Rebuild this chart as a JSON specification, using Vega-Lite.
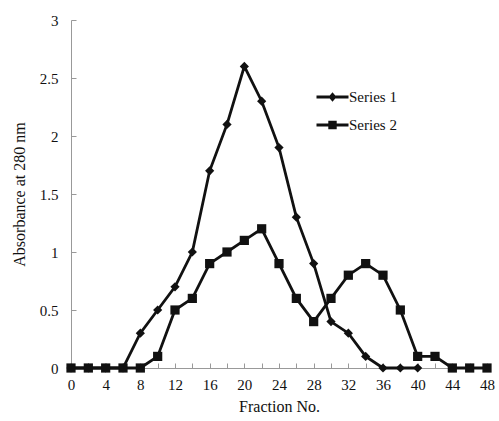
{
  "$schema": "https://vega.github.io/schema/vega-lite/v6.json",
  "width": 416,
  "height": 348,
  "autosize": {"type": "none"},
  "padding": {"left": 71, "top": 20, "right": 12, "bottom": 53},
  "background": "white",
  "config": {
    "view": {"stroke": null},
    "font": "Liberation Serif",
    "axis": {
      "grid": false,
      "domainColor": "#999999",
      "tickColor": "#999999",
      "labelFont": "Liberation Serif",
      "titleFont": "Liberation Serif",
      "labelFontSize": 15,
      "titleFontSize": 16,
      "labelColor": "#111111",
      "titleColor": "#111111",
      "titleFontWeight": "normal"
    }
  },
  "data": {
    "values": [
      {"x": 0, "y": 0, "s": "Series 1"},
      {"x": 2, "y": 0, "s": "Series 1"},
      {"x": 4, "y": 0, "s": "Series 1"},
      {"x": 6, "y": 0, "s": "Series 1"},
      {"x": 8, "y": 0.3, "s": "Series 1"},
      {"x": 10, "y": 0.5, "s": "Series 1"},
      {"x": 12, "y": 0.7, "s": "Series 1"},
      {"x": 14, "y": 1.0, "s": "Series 1"},
      {"x": 16, "y": 1.7, "s": "Series 1"},
      {"x": 18, "y": 2.1, "s": "Series 1"},
      {"x": 20, "y": 2.6, "s": "Series 1"},
      {"x": 22, "y": 2.3, "s": "Series 1"},
      {"x": 24, "y": 1.9, "s": "Series 1"},
      {"x": 26, "y": 1.3, "s": "Series 1"},
      {"x": 28, "y": 0.9, "s": "Series 1"},
      {"x": 30, "y": 0.4, "s": "Series 1"},
      {"x": 32, "y": 0.3, "s": "Series 1"},
      {"x": 34, "y": 0.1, "s": "Series 1"},
      {"x": 36, "y": 0, "s": "Series 1"},
      {"x": 38, "y": 0, "s": "Series 1"},
      {"x": 40, "y": 0, "s": "Series 1"},
      {"x": 0, "y": 0, "s": "Series 2"},
      {"x": 2, "y": 0, "s": "Series 2"},
      {"x": 4, "y": 0, "s": "Series 2"},
      {"x": 6, "y": 0, "s": "Series 2"},
      {"x": 8, "y": 0, "s": "Series 2"},
      {"x": 10, "y": 0.1, "s": "Series 2"},
      {"x": 12, "y": 0.5, "s": "Series 2"},
      {"x": 14, "y": 0.6, "s": "Series 2"},
      {"x": 16, "y": 0.9, "s": "Series 2"},
      {"x": 18, "y": 1.0, "s": "Series 2"},
      {"x": 20, "y": 1.1, "s": "Series 2"},
      {"x": 22, "y": 1.2, "s": "Series 2"},
      {"x": 24, "y": 0.9, "s": "Series 2"},
      {"x": 26, "y": 0.6, "s": "Series 2"},
      {"x": 28, "y": 0.4, "s": "Series 2"},
      {"x": 30, "y": 0.6, "s": "Series 2"},
      {"x": 32, "y": 0.8, "s": "Series 2"},
      {"x": 34, "y": 0.9, "s": "Series 2"},
      {"x": 36, "y": 0.8, "s": "Series 2"},
      {"x": 38, "y": 0.5, "s": "Series 2"},
      {"x": 40, "y": 0.1, "s": "Series 2"},
      {"x": 42, "y": 0.1, "s": "Series 2"},
      {"x": 44, "y": 0, "s": "Series 2"},
      {"x": 46, "y": 0, "s": "Series 2"},
      {"x": 48, "y": 0, "s": "Series 2"}
    ]
  },
  "encoding": {
    "x": {
      "field": "x",
      "type": "quantitative",
      "scale": {"domain": [0, 48], "nice": false, "zero": true},
      "axis": {
        "title": "Fraction No.",
        "values": [0, 2, 4, 6, 8, 10, 12, 14, 16, 18, 20, 22, 24, 26, 28, 30, 32, 34, 36, 38, 40, 42, 44, 46, 48],
        "labelExpr": "datum.value % 4 === 0 ? datum.label : ''",
        "tickSize": -5,
        "labelPadding": 14,
        "titlePadding": 6,
        "labelFlush": false
      }
    },
    "y": {
      "field": "y",
      "type": "quantitative",
      "scale": {"domain": [0, 3], "nice": false},
      "axis": {
        "title": "Absorbance at 280 nm",
        "values": [0, 0.5, 1, 1.5, 2, 2.5, 3],
        "format": "~g",
        "tickSize": -5,
        "labelPadding": 18,
        "titlePadding": 12,
        "labelFlush": false
      }
    }
  },
  "resolve": {"scale": {"shape": "independent"}, "legend": {"shape": "independent"}},
  "layer": [
    {
      "mark": {"type": "line", "stroke": "#111111", "strokeWidth": 2.8},
      "encoding": {"detail": {"field": "s"}}
    },
    {
      "mark": {"type": "point", "filled": true, "color": "#111111", "opacity": 1, "size": 85},
      "encoding": {
        "shape": {
          "field": "s",
          "type": "nominal",
          "scale": {"domain": ["Series 1", "Series 2"], "range": ["diamond", "square"]},
          "legend": null
        }
      }
    },
    {
      "transform": [{"filter": "datum.x < 0"}],
      "mark": {"type": "point", "filled": true, "color": "#111111", "opacity": 1, "size": 400},
      "encoding": {
        "shape": {
          "field": "s",
          "type": "nominal",
          "scale": {
            "domain": ["Series 1", "Series 2"],
            "range": [
              "M-1.6,-0.14L1.6,-0.14L1.6,0.14L-1.6,0.14ZM0,-0.47L0.4,0L0,0.47L-0.4,0Z",
              "M-1.6,-0.14L1.6,-0.14L1.6,0.14L-1.6,0.14ZM-0.42,-0.42L0.42,-0.42L0.42,0.42L-0.42,0.42Z"
            ]
          },
          "legend": {
            "title": null,
            "orient": "none",
            "legendX": 250.5,
            "legendY": 66,
            "padding": 0,
            "symbolSize": 400,
            "symbolFillColor": "#111111",
            "symbolOpacity": 1,
            "labelFont": "Liberation Serif",
            "labelFontSize": 15,
            "labelColor": "#111111",
            "labelOffset": 5.5,
            "rowPadding": 9
          }
        }
      }
    }
  ]
}
